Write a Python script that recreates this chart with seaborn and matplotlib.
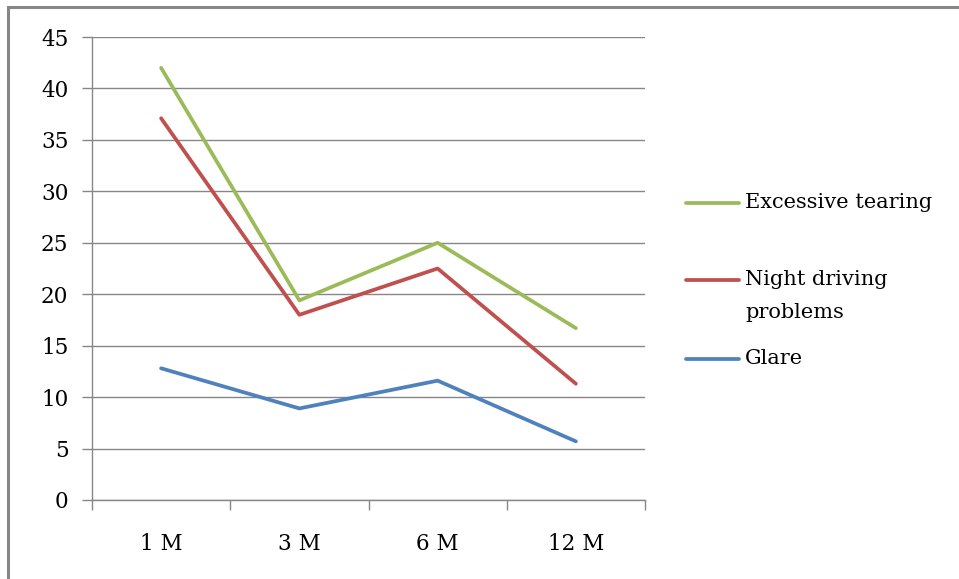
import pandas as pd
import matplotlib.pyplot as plt
import seaborn as sns
from matplotlib.lines import Line2D
from matplotlib.patches import Rectangle

# data
months = ['1 M', '3 M', '6 M', '12 M']
excessive_tearing = [42.0, 19.4, 25.0, 16.7]
night_driving = [37.1, 18.0, 22.5, 11.3]
glare = [12.8, 8.9, 11.6, 5.7]

series_names = ['Excessive tearing', 'Night driving\nproblems', 'Glare']
series_values = [excessive_tearing, night_driving, glare]
colors = ['#9BBB59', '#C0504D', '#4F81BD']

rows = []
for name, vals in zip(series_names, series_values):
    for m, v in zip(months, vals):
        rows.append({'month': m, 'value': v, 'series': name})
df = pd.DataFrame(rows)

sns.set_theme(style="white")
plt.rcParams['font.family'] = ['DejaVu Serif']

W, H = 959, 579
fig = plt.figure(figsize=(W / 100, H / 100), dpi=100)
ax = fig.add_axes([92 / W, 1 - 500 / H, (645 - 92) / W, (500 - 37) / H])

sns.lineplot(data=df, x='month', y='value', hue='series', palette=colors,
             linewidth=2.7, legend=False, ax=ax, sort=False)

grid_c = '#878787'
ax.set_ylim(0, 45)
ax.set_yticks(range(0, 46, 5))
ax.set_xlim(-0.5, len(months) - 0.5)
ax.set_xticks(range(len(months)))
ax.set_xticklabels(months)
ax.set_xticks([i - 0.5 for i in range(len(months) + 1)], minor=True)
ax.yaxis.grid(True, color=grid_c, linewidth=1)
ax.set_axisbelow(True)
ax.set_xlabel('')
ax.set_ylabel('')

for s in ['top', 'right']:
    ax.spines[s].set_visible(False)
for s in ['left', 'bottom']:
    ax.spines[s].set_color(grid_c)
    ax.spines[s].set_linewidth(1)

ax.tick_params(axis='y', which='major', length=7, color=grid_c, width=1,
               pad=10, labelsize=15.5, labelcolor='black', left=True,
               direction='out')
ax.tick_params(axis='x', which='major', length=0, pad=24, labelsize=15.5,
               labelcolor='black')
ax.tick_params(axis='x', which='minor', length=7, color=grid_c, width=1,
               bottom=True, direction='out')

# Excel-style legend: handle aligned to first line of each label
leg_y = [203, 280, 359]
for name, c, y in zip(series_names, colors, leg_y):
    fy = 1 - y / H
    fig.add_artist(Line2D([686 / W, 739 / W], [fy, fy], color=c,
                          linewidth=2.7, solid_capstyle='round'))
    fig.text(745 / W, 1 - (y - 10) / H, name, fontsize=15, va='top',
             ha='left', linespacing=1.95, color='black')

# gray outer frame
fig.add_artist(Rectangle((8 / W, -0.05), 1.0, 1 - 7 / H + 0.05,
                         transform=fig.transFigure, fill=False,
                         edgecolor='#878787', linewidth=2.2))

fig.savefig('out.png', dpi=100)
